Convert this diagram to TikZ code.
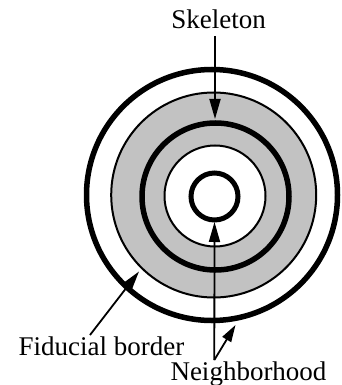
\documentclass[tikz,border=0pt]{standalone}
\usepackage{fontspec}
\setmainfont{Liberation Serif}
\usetikzlibrary{arrows.meta}
\begin{document}
\begin{tikzpicture}[x=1pt,y=-1pt,
  thickring/.style={line width=5.5pt},
  thinring/.style={line width=2pt},
  smallring/.style={line width=5pt},
  band/.style={fill=black!24},
  pointer/.style={line width=1.8pt,-{Triangle[length=20pt,width=11pt]}},
  lbl/.style={font=\fontsize{27}{30}\selectfont, inner sep=0pt, anchor=base}]
\useasboundingbox (0,0) rectangle (342,385);
% centres
\coordinate (c1) at (212,195);
\coordinate (c2) at (213.7,195);
\coordinate (c3) at (215.5,196.5);
\coordinate (c4) at (215,196);
\coordinate (c5) at (214.5,196.5);
% shaded band
\path[band,even odd rule] (c2) circle[radius=102.5pt] (c4) circle[radius=50.5pt];
% rings
\draw[thickring] (c1) circle[radius=125.5pt];
\draw[thinring] (c2) circle[radius=102.5pt];
\draw[thickring] (c3) circle[radius=73.5pt];
\draw[thinring] (c4) circle[radius=50.5pt];
\draw[smallring] (c5) circle[radius=23.5pt];
% labels
\node[lbl] (skel) at (218.5,28.3) {Skeleton};
\node[lbl] (fid) at (101.5,355) {Fiducial border};
\node[lbl] (neigh) at (248.5,380.5) {Neighborhood};
% arrow ends
\coordinate (skelA) at (215,36);
\coordinate (skelB) at (215,119);
\coordinate (fidA) at (90,335);
\coordinate (fidB) at (139,271.5);
\coordinate (nA) at (214.3,360);
\coordinate (nB) at (214.5,222);
\coordinate (nC) at (235.5,325);
\draw[pointer] (skelA) -- (skelB);
\draw[pointer] (fidA) -- (fidB);
\draw[pointer] (nA) -- (nB);
\draw[pointer,-{Triangle[length=17pt,width=10pt]}] (nA) -- (nC);
\end{tikzpicture}
\end{document}
